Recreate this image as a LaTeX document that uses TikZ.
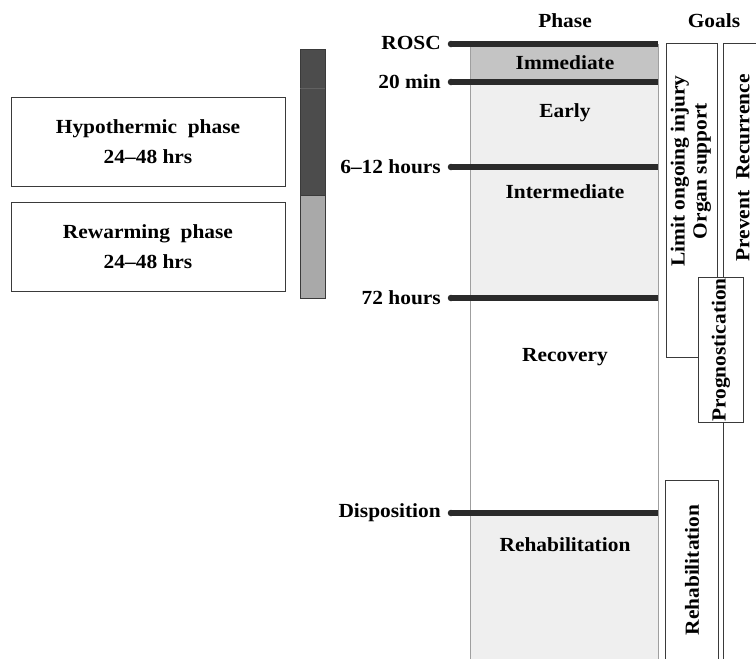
\documentclass[tikz,border=0pt]{standalone}
\usepackage{fontspec}
\setmainfont{Liberation Serif}[FakeStretch=1.07]
\begin{document}
\begin{tikzpicture}[x=1pt,y=-1pt,
  lbl/.style={font=\fontsize{20}{24}\selectfont\bfseries, inner sep=0pt},
  tick/.style={lbl, anchor=east},
  phasebar/.style={line width=6.5pt, draw=barc, line cap=butt},
  goalbox/.style={draw=boxc, line width=0.8pt, fill=white},
  goalline/.style={draw=boxc, line width=0.8pt},
  colline/.style={draw=gray!75, line width=0.8pt},
  leftbox/.style={draw=boxc, line width=0.9pt}]
\definecolor{barc}{HTML}{2A2A2A}
\definecolor{boxc}{HTML}{3A3A3A}
\definecolor{immc}{HTML}{C4C4C4}
\definecolor{lightc}{HTML}{EFEFEF}
\definecolor{darkc}{HTML}{4C4C4C}
\definecolor{midc}{HTML}{A9A9A9}
\useasboundingbox[fill=white] (0,0) rectangle (756,659);

% phase column fills
\fill[immc] (470,44) rectangle (658,82);
\fill[lightc] (470,82) rectangle (658,298);
\fill[lightc] (470,513) rectangle (658,659);
\draw[colline] (470,44) -- (470,659);
\draw[colline] (658,44) -- (658,659);

% bars
\foreach \yy/\nm in {44/rosc,82/twenty,167/six,298/seventy,513/disp}{
  \coordinate (\nm L) at (451,\yy);
  \coordinate (\nm R) at (658,\yy);
  \draw[phasebar] (\nm L) -- (\nm R);
  \fill[barc] (\nm L) circle (3.25pt);
}

% headers
\node[lbl] (phase) at (565,21) {Phase};
\node[lbl] (goals) at (714,21) {Goals};

% tick labels
\node[tick] (troscl) at (441,43) {ROSC};
\node[tick] (t20) at (441,82) {20 min};
\node[tick] (t612) at (441,167) {6–12 hours};
\node[tick] (t72) at (441,298) {72 hours};
\node[tick] (tdisp) at (441,513) {Disposition};

% phase labels
\node[lbl] (immediate) at (565,63) {Immediate};
\node[lbl] (early) at (565,113) {Early};
\node[lbl] (intermediate) at (565,192) {Intermediate};
\node[lbl] (recovery) at (565,357) {Recovery};
\node[lbl] (rehab) at (565,545) {Rehabilitation};

% left bar
\fill[darkc] (300,49) rectangle (325,195);
\fill[midc] (300,195) rectangle (325,298);
\draw[boxc, line width=0.7pt] (300,49) rectangle (325,298);
\draw[boxc!80, line width=0.6pt] (300,88) -- (325,88);
\draw[boxc, line width=0.6pt] (300,195) -- (325,195);

% left boxes
\draw[leftbox] (11,97) rectangle (285,186);
\draw[leftbox] (11,202) rectangle (285,291);
\node[lbl, align=center, font=\fontsize{20}{30}\selectfont\bfseries] (hypo) at (148,142) {Hypothermic~~phase\\24–48 hrs};
\node[lbl, align=center, font=\fontsize{20}{30}\selectfont\bfseries] (rewarm) at (148,247) {Rewarming~~phase\\24–48 hrs};

% goals column
\draw[goalline] (723,659) -- (723,43) -- (757,43);
\draw[goalbox] (666,43) rectangle (717,357);
\draw[goalbox] (698,277) rectangle (743,422);
\draw[goalline] (665,659) -- (665,480) -- (718,480) -- (718,659);

\node[lbl, align=center, rotate=90, font=\fontsize{20}{22}\selectfont\bfseries] (limit) at (691,171) {Limit ongoing injury\\Organ support};
\node[lbl, rotate=90] (prevent) at (743,168) {Prevent~~Recurrence};
\node[lbl, rotate=90] (progn) at (721,350) {Prognostication};
\node[lbl, rotate=90] (grehab) at (692,570) {Rehabilitation};
\end{tikzpicture}
\end{document}
